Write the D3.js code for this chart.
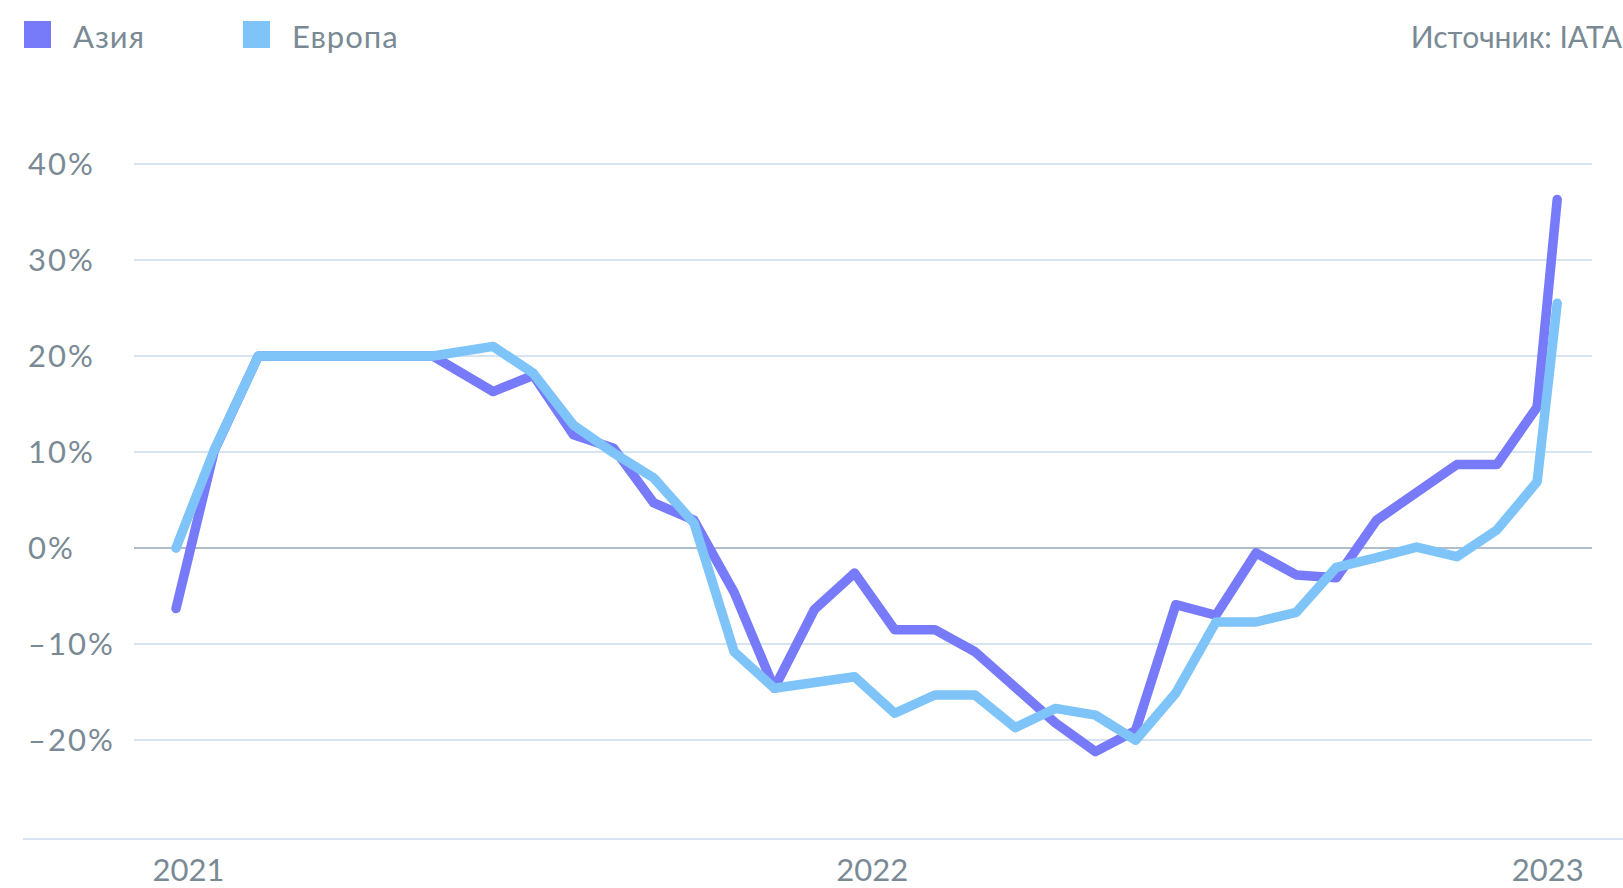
<!DOCTYPE html>
<html>
<head>
<meta charset="utf-8">
<script src="https://d3js.org/d3.v7.min.js"></script>
<style>
  body { margin: 0; background: #fff; }
  svg text { font-family: Lato, "Noto Sans", sans-serif; fill: #7a8a95; }
</style>
</head>
<body>
<svg id="svgLinechart" width="1623" height="888"></svg>
<script>
/*
  Passenger traffic change, Asia vs Europe (source: IATA).
  Line chart drawn with d3 v7.
*/

// position of each point along the x axis, in months from the first point
var PERIODS = [0.1, 1.05, 2.15, 6.5, 8, 9, 10, 11, 12, 13, 14, 15, 16, 17, 18,
  19, 20, 21, 22, 23, 24, 25, 26, 27, 28, 29, 30, 31, 32, 33, 34, 34.5];

// change in %, per series
var ASIA = [-6.3, 10.1, 20, 20, 16.3, 18, 11.8, 10.4, 4.7, 2.9, -4.6, -14.6,
  -6.4, -2.6, -8.5, -8.5, -10.8, -14.5, -18.2, -21.2, -19, -5.9, -7, -0.5,
  -2.8, -3.1, 2.9, 5.8, 8.7, 8.7, 14.7, 36.3];
var EUROPE = [0, 10.2, 20, 20, 21, 18.2, 12.8, 9.9, 7.3, 2.6, -10.8, -14.6,
  -14, -13.4, -17.2, -15.3, -15.3, -18.7, -16.7, -17.4, -20, -15.1, -7.7,
  -7.7, -6.7, -2, -1, 0.1, -0.9, 1.9, 6.9, 25.5];

var SERIES_NAMES = ["Азия", "Европа"];
var SERIES_COLORS = ["#777bfa", "#7ec4f8"];

var Y_TICKS = [-20, -10, 0, 10, 20, 30, 40];
var YEAR_LABELS = ["2021", "2022", "2023"];
var YEAR_POSITIONS = [0.4, 17.43, 34.25];

var SOURCE = "Источник: IATA";

function makeLinechart() {
  var svg = d3.select("#svgLinechart");
  var width = +svg.attr("width");

  // scales
  var x = d3.scaleLinear().domain([0, 34.5]).range([172, 1557.2]);
  var y = d3.scaleLinear().domain([-30.3, 40]).range([839, 164]);

  var gridLeft = 134;
  var gridRight = 1592;

  // horizontal grid lines
  svg.append("g").attr("class", "grid")
    .selectAll("line")
    .data(Y_TICKS)
    .join("line")
      .attr("x1", gridLeft)
      .attr("x2", gridRight)
      .attr("y1", function(d) { return y(d); })
      .attr("y2", function(d) { return y(d); })
      .attr("stroke", function(d) { return d === 0 ? "#aebdc9" : "#d5e4f0"; })
      .attr("stroke-width", 2);

  // y labels, left aligned
  svg.append("g").attr("class", "y labels")
    .selectAll("text")
    .data(Y_TICKS)
    .join("text")
      .attr("x", 28)
      .attr("y", function(d) { return y(d); })
      .attr("dy", "0.36em")
      .style("font-size", "31px")
      .style("letter-spacing", "2px")
      .text(function(d) { return (d < 0 ? "\u2013" + (-d) : d) + "%"; });

  // bottom axis line
  svg.append("line")
    .attr("x1", 23)
    .attr("x2", width)
    .attr("y1", y(-30.3))
    .attr("y2", y(-30.3))
    .attr("stroke", "#d5e4f0")
    .attr("stroke-width", 2);

  // x axis with year labels
  var xAxis = d3.axisBottom(x)
    .tickValues(YEAR_POSITIONS)
    .tickFormat(function(d, i) { return YEAR_LABELS[i]; })
    .tickSize(0)
    .tickPadding(0);

  var gx = svg.append("g")
    .attr("class", "x axis")
    .attr("transform", "translate(0," + 881 + ")")
    .call(xAxis);
  gx.select(".domain").remove();
  gx.selectAll("text")
    .attr("dy", 0)
    .attr("fill", null)
    .style("font-size", "31px");

  // the lines
  var valueline = d3.line()
    .x(function(d, i) { return x(PERIODS[i]); })
    .y(function(d) { return y(d); });

  svg.append("g").attr("class", "lines")
    .selectAll("path")
    .data([ASIA, EUROPE])
    .join("path")
      .attr("fill", "none")
      .attr("stroke", function(d, i) { return SERIES_COLORS[i]; })
      .attr("stroke-width", 9.5)
      .attr("stroke-linecap", "round")
      .attr("stroke-linejoin", "round")
      .attr("d", function(d) { return valueline(d); });

  // legend
  var legendX = [24, 243];
  var legend = svg.append("g").attr("class", "legend")
    .selectAll("g")
    .data(SERIES_NAMES)
    .join("g")
      .attr("transform", function(d, i) { return "translate(" + legendX[i] + ",21)"; });

  legend.append("rect")
    .attr("width", 27)
    .attr("height", 27)
    .attr("fill", function(d, i) { return SERIES_COLORS[i]; });

  legend.append("text")
    .attr("x", 49)
    .attr("y", 26.5)
    .style("font-size", "31px")
    .style("letter-spacing", "1px")
    .text(function(d) { return d; });

  // source note
  svg.append("text")
    .attr("x", 1622)
    .attr("y", 47.5)
    .style("text-anchor", "end")
    .style("font-size", "30px")
    .text(SOURCE);
}

makeLinechart();
</script>
</body>
</html>
